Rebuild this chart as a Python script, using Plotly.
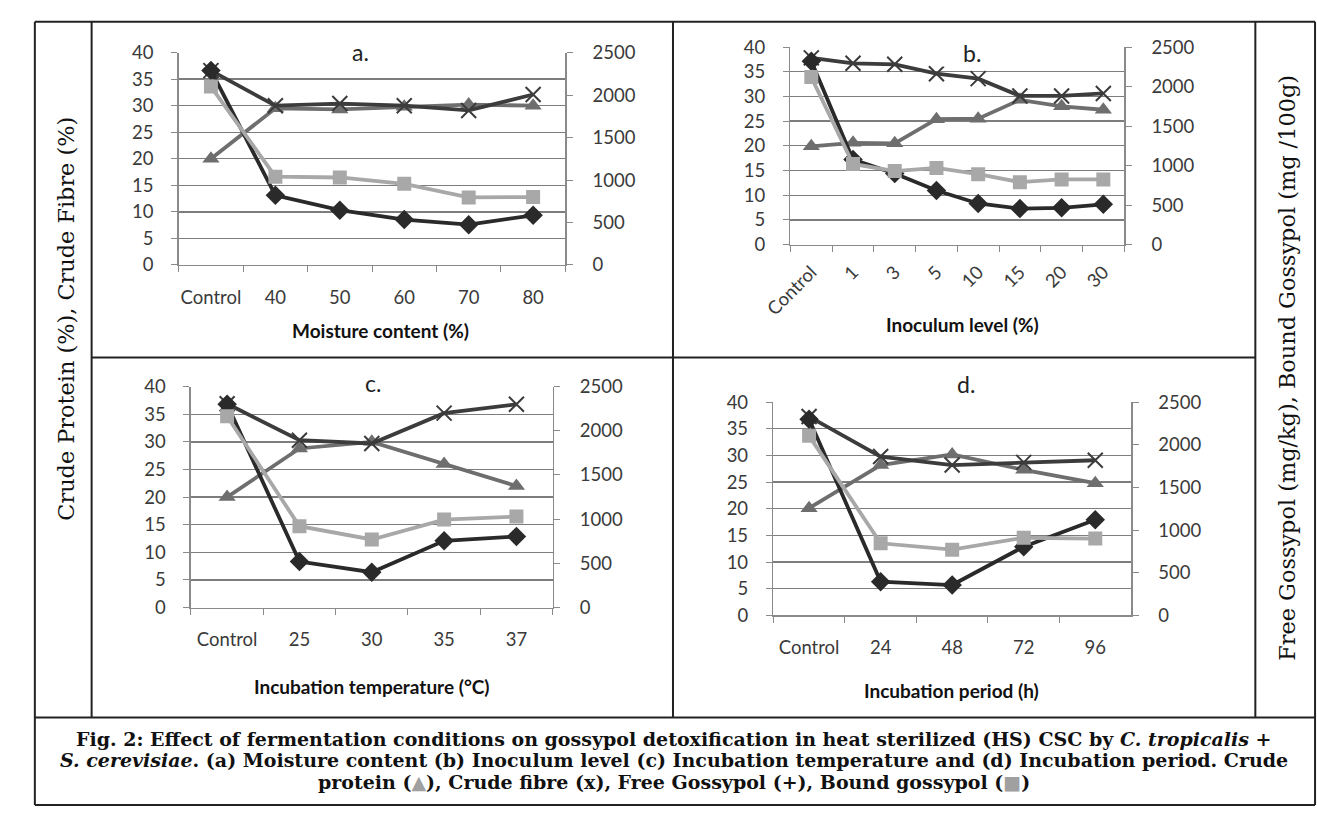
import plotly.graph_objects as go

W, H = 1317, 817

# ---------------- data ----------------
cats_a = ["Control", "40", "50", "60", "70", "80"]
protein_a = [20.0, 29.5, 29.3, 29.8, 30.2, 30.0]
fibre_a = [36.6, 30.0, 30.4, 30.0, 29.1, 32.1]
free_a = [2290, 820, 645, 535, 475, 585]
bound_a = [2100, 1040, 1030, 955, 795, 800]

cats_b = ["Control", "1", "3", "5", "10", "15", "20", "30"]
protein_b = [19.9, 20.6, 20.5, 25.4, 25.5, 29.3, 28.0, 27.3]
fibre_b = [37.8, 36.7, 36.5, 34.6, 33.6, 30.1, 30.1, 30.6]
free_b = [2320, 1075, 900, 685, 520, 455, 465, 510]
bound_b = [2120, 1020, 930, 970, 890, 790, 825, 825]

cats_c = ["Control", "25", "30", "35", "37"]
protein_c = [20.0, 28.8, 30.0, 26.0, 22.0]
fibre_c = [36.9, 30.3, 29.7, 35.2, 36.8]
free_c = [2300, 520, 400, 755, 805]
bound_c = [2165, 920, 770, 995, 1030]

cats_d = ["Control", "24", "48", "72", "96"]
protein_d = [20.1, 28.2, 30.2, 27.3, 24.8]
fibre_d = [37.3, 29.8, 28.2, 28.7, 29.1]
free_d = [2300, 395, 355, 805, 1120]
bound_d = [2105, 845, 770, 910, 900]

left_range = [0, 40]
right_range = [0, 2500]

x_titles = ["Moisture content (%)", "Inoculum level (%)",
            "Incubation temperature (°C)", "Incubation period (h)"]
panel_titles = ["a.", "b.", "c.", "d."]

left_label = "Crude Protein (%), Crude Fibre (%)"
right_label = "Free Gossypol (mg/kg), Bound Gossypol (mg /100g)"
caption_lines = [
    "<b>Fig. 2: Effect of fermentation conditions on gossypol detoxification in heat sterilized (HS) CSC by <i>C. tropicalis</i> +</b>",
    "<b><i>S. cerevisiae</i>. (a) Moisture content (b) Inoculum level (c) Incubation temperature and (d) Incubation period. Crude</b>",
    "<b>protein (<span style='color:#a0a0a0'>▲</span>), Crude fibre (x), Free Gossypol (+), Bound gossypol (<span style='color:#a0a0a0'>■</span>)</b>",
]

# ---------------- geometry (pixels) ----------------
def px(x):
    return x / W

def py(y):
    return 1 - y / H

panels = [
    dict(cats=cats_a, protein=protein_a, fibre=fibre_a, free=free_a, bound=bound_a,
         x0=154, x1=549, ytop=41.7, ybot=260, angle=0,
         title_xy=(340, 41), title_box=(305, 380, 29, 54), xtitle=(360, 327)),
    dict(cats=cats_b, protein=protein_b, fibre=fibre_b, free=free_b, bound=bound_b,
         x0=779, x1=1120, ytop=36, ybot=239, angle=-45,
         title_xy=(964, 42), title_box=(932, 1005, 27, 56), xtitle=(955, 321)),
    dict(cats=cats_c, protein=protein_c, fibre=fibre_c, free=free_c, bound=bound_c,
         x0=166.5, x1=536, ytop=385, ybot=612, angle=0,
         title_xy=(353, 381), title_box=(322, 382, 368, 394), xtitle=(351, 693)),
    dict(cats=cats_d, protein=protein_d, fibre=fibre_d, free=free_d, bound=bound_d,
         x0=761.5, x1=1127, ytop=401, ybot=620, angle=0,
         title_xy=(958, 382), title_box=(928, 999, 366, 406), xtitle=(944, 697)),
]

TICKFONT = dict(family="Lato, Carlito, sans-serif", size=18.5, color="#3a3a3a")
AXCOL = "#8a8a8a"
GRIDCOL = "#7d7d7d"

C_PROT = "#6e6e6e"
C_FIB = "#3c3c3c"
C_FREE = "#2a2a2a"
C_BOUND = "#a8a8a8"

fig = go.Figure()
layout = {}
annotations = []
shapes = []

for k, p in enumerate(panels, start=1):
    xa = "x" if k == 1 else f"x{k}"
    yl_n = 2 * k - 1
    yr_n = 2 * k
    yl = "y" if yl_n == 1 else f"y{yl_n}"
    yr = f"y{yr_n}"

    fig.add_trace(go.Scatter(
        x=p["cats"], y=p["protein"], xaxis=xa, yaxis=yl, mode="lines+markers",
        name="Crude protein", line=dict(color=C_PROT, width=3.8),
        marker=dict(symbol="triangle-up", size=15, color=C_PROT)))
    fig.add_trace(go.Scatter(
        x=p["cats"], y=p["fibre"], xaxis=xa, yaxis=yl, mode="lines+markers",
        name="Crude fibre", line=dict(color=C_FIB, width=3.8),
        marker=dict(symbol="x-thin", size=15, line=dict(color=C_FIB, width=2))))
    fig.add_trace(go.Scatter(
        x=p["cats"], y=p["free"], xaxis=xa, yaxis=yr, mode="lines+markers",
        name="Free gossypol", line=dict(color=C_FREE, width=3.8),
        marker=dict(symbol="diamond", size=15, color=C_FREE)))
    fig.add_trace(go.Scatter(
        x=p["cats"], y=p["bound"], xaxis=xa, yaxis=yr, mode="lines+markers",
        name="Bound gossypol", line=dict(color=C_BOUND, width=3.8),
        marker=dict(symbol="square", size=14, color=C_BOUND)))

    xkey = "xaxis" if k == 1 else f"xaxis{k}"
    ylkey = "yaxis" if yl_n == 1 else f"yaxis{yl_n}"
    yrkey = f"yaxis{yr_n}"

    layout[xkey] = dict(
        domain=[px(p["x0"]), px(p["x1"])], anchor=yl, type="category",
        range=[-0.5, len(p["cats"]) - 0.5],
        showline=True, linecolor=AXCOL, linewidth=1.5,
        ticks="outside", tickson="boundaries", ticklen=6, tickcolor=AXCOL,
        showgrid=False, zeroline=False, tickfont=TICKFONT,
        tickangle=p["angle"], ticklabelstandoff=15 if p["angle"] == 0 else 8,
        fixedrange=True)
    layout[ylkey] = dict(
        domain=[py(p["ybot"]), py(p["ytop"])], anchor=xa,
        range=left_range, dtick=5, tick0=0,
        showgrid=True, gridcolor=GRIDCOL, gridwidth=1.3,
        showline=True, linecolor=AXCOL, linewidth=1.5,
        ticks="outside", ticklen=6, tickcolor=AXCOL,
        zeroline=False, tickfont=TICKFONT, ticklabelstandoff=14,
        fixedrange=True)
    layout[yrkey] = dict(
        overlaying=yl, side="right", anchor=xa,
        range=right_range, dtick=500, tick0=0,
        showgrid=False, showline=True, linecolor=AXCOL, linewidth=1.5,
        ticks="outside", ticklen=6, tickcolor=AXCOL,
        zeroline=False, tickfont=TICKFONT, ticklabelstandoff=16,
        fixedrange=True)

    # white title box breaking the top gridline
    bx0, bx1, by0, by1 = p["title_box"]
    shapes.append(dict(type="rect", xref="paper", yref="paper",
                       x0=px(bx0), x1=px(bx1), y0=py(by1), y1=py(by0),
                       fillcolor="white", line=dict(width=0), layer="above"))
    tx, ty = p["title_xy"]
    annotations.append(dict(text=panel_titles[k - 1], x=px(tx), y=py(ty),
                            xref="paper", yref="paper", showarrow=False,
                            xanchor="center", yanchor="middle",
                            font=dict(family="Lato, sans-serif", size=23, color="#222")))
    # x-axis title
    xt, yt = p["xtitle"]
    annotations.append(dict(text=f"<b>{x_titles[k - 1]}</b>",
                            x=px(xt), y=py(yt),
                            xref="paper", yref="paper", showarrow=False,
                            xanchor="center", yanchor="middle",
                            font=dict(family="Lato, sans-serif", size=19, color="#111")))

# side labels
annotations.append(dict(text=left_label, x=px(38), y=py(315), xref="paper", yref="paper",
                        showarrow=False, textangle=-90, xanchor="center", yanchor="middle",
                        font=dict(family="DejaVu Serif, serif", size=22.4, color="#111")))
annotations.append(dict(text=right_label, x=px(1287), y=py(366), xref="paper", yref="paper",
                        showarrow=False, textangle=-90, xanchor="center", yanchor="middle",
                        font=dict(family="DejaVu Serif, serif", size=22.4, color="#111")))

# caption lines
for i, (line, yy) in enumerate(zip(caption_lines, [747, 769, 791])):
    annotations.append(dict(text=line, x=px(660), y=py(yy), xref="paper", yref="paper",
                            showarrow=False, xanchor="center", yanchor="middle",
                            font=dict(family="DejaVu Serif, serif", size=19, color="#111")))

# table borders
BC = "#222"
def hline(y, x0, x1, w=2):
    shapes.append(dict(type="line", xref="paper", yref="paper",
                       x0=px(x0), x1=px(x1), y0=py(y), y1=py(y),
                       line=dict(color=BC, width=w), layer="above"))

def vline(x, y0, y1, w=2):
    shapes.append(dict(type="line", xref="paper", yref="paper",
                       x0=px(x), x1=px(x), y0=py(y0), y1=py(y1),
                       line=dict(color=BC, width=w), layer="above"))

hline(10, 7, 1315)
hline(815, 7, 1315)
vline(7, 10, 815)
vline(1315, 10, 815)
vline(65, 10, 725)
vline(659, 10, 725)
vline(1254, 10, 725)
hline(355, 65, 1254)
hline(725, 7, 1315)

fig.update_layout(
    width=W, height=H,
    margin=dict(l=0, r=0, t=0, b=0),
    paper_bgcolor="white", plot_bgcolor="white",
    showlegend=False,
    annotations=annotations, shapes=shapes,
    **layout,
)

fig.write_html(
    "out.html",
    config={"displayModeBar": False, "staticPlot": True},
    post_script="document.body.style.margin='0px';"
                "document.body.style.overflow='hidden';"
                "document.documentElement.style.overflow='hidden';",
)
